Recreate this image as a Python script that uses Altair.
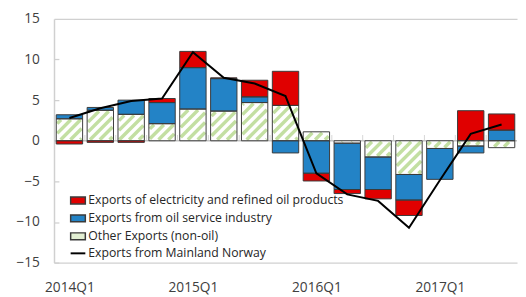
import math
import altair as alt
import pandas as pd

quarters = ["2014Q1", "2014Q2", "2014Q3", "2014Q4",
            "2015Q1", "2015Q2", "2015Q3", "2015Q4",
            "2016Q1", "2016Q2", "2016Q3", "2016Q4",
            "2017Q1", "2017Q2", "2017Q3"]
electricity = [-0.4, -0.2, -0.2, 0.5, 2.0, 0.1, 2.05, 4.2, -0.95, -0.5, -1.15, -1.9, 0.0, 3.7, 2.0]
oil_service = [0.5, 0.35, 1.75, 2.6, 5.1, 4.0, 0.7, -1.5, -4.0, -5.7, -4.0, -3.15, -3.8, -0.85, 1.3]
other = [2.7, 3.75, 3.25, 2.1, 3.9, 3.65, 4.7, 4.35, 1.1, -0.3, -2.0, -4.15, -0.95, -0.65, -0.85]
mainland = [2.8, 4.0, 4.9, 5.2, 10.9, 7.75, 7.05, 5.5, -4.0, -6.6, -7.4, -10.7, -4.85, 0.85, 2.0]

series_names = ["Exports of electricity and refined oil products",
                "Exports from oil service industry",
                "Other Exports (non-oil)"]
line_name = "Exports from Mainland Norway"
xlabel_values = [0, 4, 8, 12]
yticks = [-15, -10, -5, 0, 5, 10, 15]

W, H = 473, 249
HW = 0.427  # half bar width in category units
FONT = "Open Sans"
GRAY = "#d0d0d0"

# stacked segments (positive and negative stacked separately, other -> oil -> electricity)
rows = []
for i, q in enumerate(quarters):
    pos, neg = 0.0, 0.0
    for name, vals in [(series_names[2], other),
                       (series_names[1], oil_service),
                       (series_names[0], electricity)]:
        v = vals[i]
        if v >= 0:
            y0, y1 = pos, pos + v
            pos = y1
        else:
            y0, y1 = neg, neg + v
            neg = y1
        rows.append({"idx": i, "quarter": q, "series": name, "value": v,
                     "y0": y0, "y1": y1, "xa": i - HW, "xb": i + HW})
bars_df = pd.DataFrame(rows)
bars_df = bars_df[bars_df["value"] != 0]

line_df = pd.DataFrame({"idx": list(range(len(quarters))), "value": mainland,
                        "series": [line_name] * len(quarters)})
bound_df = pd.DataFrame({"b": [i + 0.5 for i in range(len(quarters) - 1)]})
zero_df = pd.DataFrame({"v": [0]})

# diagonal hatch segments for the "other" bars (derived from the data)
px_x = W / len(quarters)
px_y = H / 30.0
k = px_x / px_y
s = 10.0 / px_x
ix, iy = 1.0 / px_x, 1.0 / px_y
segs = []
for i, g in enumerate(other):
    xa, xb = i - HW + ix, i + HW - ix
    lo, hi = min(0, g) + iy, max(0, g) - iy
    if hi <= lo:
        continue
    nmin = math.floor((xa - hi / k) / s) - 1
    nmax = math.ceil((xb - lo / k) / s) + 1
    for n in range(nmin, nmax + 1):
        c = n * s
        y1 = max(lo, k * (xa - c))
        y2 = min(hi, k * (xb - c))
        if y2 > y1:
            segs.append({"x": c + y1 / k, "y": y1, "x2": c + y2 / k, "y2": y2})
hatch_df = pd.DataFrame(segs)

label_arr = "[" + ",".join("'%s'" % q for q in quarters) + "]"
xscale = alt.Scale(domain=[-0.5, len(quarters) - 0.5], nice=False, zero=False)
yscale = alt.Scale(domain=[-15, 15], nice=False, zero=False)
xaxis = alt.Axis(values=xlabel_values, labelExpr=label_arr + "[datum.value]", title=None,
                 ticks=False, grid=False, domainColor=GRAY, domainWidth=1.5,
                 labelFont=FONT, labelFontSize=14, labelColor="#404040", labelPadding=19,
                 labelFlush=False)
yaxis = alt.Axis(values=yticks, title=None, ticks=False, domainColor=GRAY, domainWidth=1.5,
                 grid=True, gridColor=GRAY, gridWidth=1.3,
                 gridDash={"condition": {"test": "datum.value === 15", "value": [3000, 0]},
                           "value": [5, 3000]},
                 labelFont=FONT, labelFontSize=14, labelColor="#404040", labelPadding=15)


def X(field):
    return alt.X(field, type="quantitative", scale=xscale, axis=xaxis)


def Y(field):
    return alt.Y(field, type="quantitative", scale=yscale, axis=yaxis)


zero_rule = alt.Chart(zero_df).mark_rule(color="#c4c4c4", strokeWidth=1.5).encode(
    y=Y("v"))

bound_ticks = alt.Chart(bound_df).mark_tick(
    orient="vertical", size=6, thickness=1, yOffset=-3, color="#c4c4c4").encode(
    x=X("b"), y=alt.datum(0))

fill_scale = alt.Scale(domain=series_names, range=["#e00000", "#2383c6", "#ffffff"])
bars = alt.Chart(bars_df).mark_bar(strokeWidth=0).encode(
    x=X("xa"), x2="xb", y=Y("y0"), y2="y1",
    fill=alt.Fill("series:N", scale=fill_scale, legend=None))

hatch = alt.Chart(hatch_df).mark_rule(color="#c3dfa2", strokeWidth=3.5).encode(
    x=X("x"), x2="x2", y=Y("y"), y2="y2")

outlines = alt.Chart(bars_df).mark_bar(fillOpacity=0, stroke="#3a3a3a", strokeWidth=1).encode(
    x=X("xa"), x2="xb", y=Y("y0"), y2="y1")

legend_layer = alt.Chart(bars_df).transform_filter("false").mark_bar(
    stroke="#3a3a3a", strokeWidth=1).encode(
    x=X("xa"), x2="xb", y=Y("y0"), y2="y1",
    fill=alt.Fill("series:N",
                  scale=alt.Scale(domain=series_names, range=["#e00000", "#2383c6", "#e2efd3"]),
                  legend=alt.Legend(title=None, orient="none", legendX=16, legendY=177,
                                    symbolType="M-1,-0.467H1V0.467H-1Z", symbolSize=225,
                                    labelFont=FONT, labelFontSize=12.5, labelColor="#262626",
                                    labelOffset=2, rowPadding=2.3, padding=0, labelLimit=0)))

line = alt.Chart(line_df).mark_line(strokeWidth=2).encode(
    x=X("idx"), y=Y("value"),
    stroke=alt.Stroke("series:N", scale=alt.Scale(domain=[line_name], range=["black"]),
                      legend=alt.Legend(title=None, orient="none", legendX=16, legendY=231,
                                        symbolType="stroke", symbolSize=225,
                                        symbolStrokeWidth=2, labelLimit=0,
                                        labelFont=FONT, labelFontSize=12.5,
                                        labelColor="#262626", labelOffset=2, padding=0)))

chart = alt.layer(zero_rule, bound_ticks, bars, hatch, outlines, legend_layer, line).resolve_scale(
    fill="independent"
).properties(
    width=W, height=H,
    padding={"left": 7, "top": 1, "right": 0, "bottom": 0},
    background="white",
).configure_view(stroke=None)

chart.save("out.html", embed_options={"renderer": "svg", "actions": False})
